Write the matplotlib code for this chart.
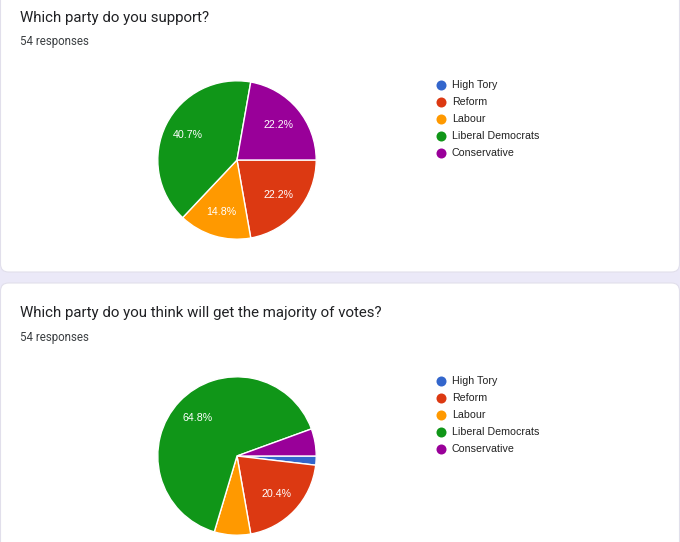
import matplotlib
matplotlib.use("Agg")
import matplotlib.pyplot as plt
from matplotlib.patches import FancyBboxPatch
from matplotlib import font_manager as fm

parties = ["High Tory", "Reform", "Labour", "Liberal Democrats", "Conservative"]
colors = ["#3366cc", "#dc3912", "#ff9900", "#109618", "#990099"]
support_counts = [0, 12, 8, 22, 12]
majority_counts = [1, 11, 4, 35, 3]
titles = ["Which party do you support?", "Which party do you think will get the majority of votes?"]
responses = ["54 responses", "54 responses"]

# regular (non-narrow) Liberation Sans
arial_path = None
for f in fm.findSystemFonts():
    if f.endswith("LiberationSans-Regular.ttf"):
        arial_path = f
        break
if arial_path:
    arial = lambda size: fm.FontProperties(fname=arial_path, size=size)
else:
    arial = lambda size: fm.FontProperties(family="DejaVu Sans", size=size)

W, H = 680, 542
fig = plt.figure(figsize=(W / 100, H / 100), dpi=100)
fig.patch.set_facecolor("#ebe9f8")

bg = fig.add_axes([0, 0, 1, 1])
bg.set_xlim(0, W)
bg.set_ylim(H, 0)
bg.axis("off")

for (y0, y1) in [(-20, 272), (283, 560)]:
    card = FancyBboxPatch((0.5, y0), W - 1, y1 - y0,
                          boxstyle="round,pad=0,rounding_size=8",
                          facecolor="white", edgecolor="#e1dfeb", lw=0.8)
    bg.add_patch(card)

sections = [
    dict(title_y=18, resp_y=42, cx=237, cy=160, leg_y=85, counts=support_counts),
    dict(title_y=313, resp_y=338, cx=237, cy=456, leg_y=381, counts=majority_counts),
]

R = 80
for i, s in enumerate(sections):
    bg.text(20, s["title_y"], titles[i], fontsize=10.8, family="Roboto",
            color="#202124", va="center", ha="left")
    bg.text(20, s["resp_y"], responses[i], fontsize=8.3, family="Roboto",
            color="#3c4043", va="center", ha="left")
    for j, (lab, col) in enumerate(zip(parties, colors)):
        y = s["leg_y"] + j * 17
        bg.scatter([441], [y], s=52, color=col, zorder=3, linewidths=0)
        bg.text(452, y, lab, fontproperties=arial(7.7),
                color="#222222", va="center", ha="left")

    ax = fig.add_axes([(s["cx"] - R) / W, (H - s["cy"] - R) / H, 2 * R / W, 2 * R / H])
    counts = s["counts"]

    def fmt(p):
        return f"{p:.1f}%" if p >= 10 else ""

    wedges, texts, autotexts = ax.pie(
        counts, colors=colors, startangle=0, counterclock=False,
        autopct=fmt, pctdistance=0.69,
        wedgeprops=dict(edgecolor="white", linewidth=1.0),
    )
    for t in autotexts:
        t.set_fontproperties(arial(7.7))
        t.set_color("white")
    ax.set_xlim(-1.01, 1.01)
    ax.set_ylim(-1.01, 1.01)
    ax.set_aspect("equal")
    ax.axis("off")

fig.savefig("out.png", dpi=100, facecolor=fig.get_facecolor())
